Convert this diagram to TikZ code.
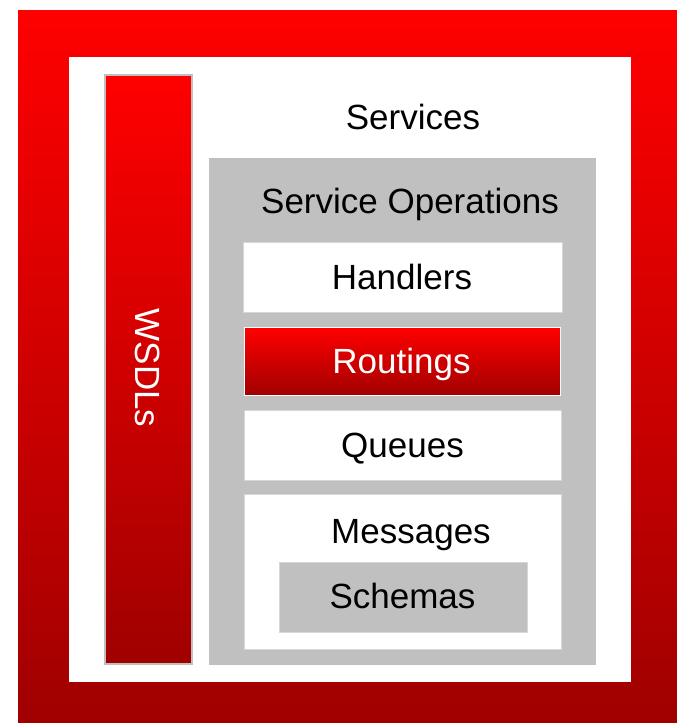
\documentclass[tikz,border=0pt]{standalone}
\usepackage{fontspec}
\setmainfont{Liberation Sans}
\definecolor{dred}{RGB}{160,0,0}
\definecolor{boxgray}{RGB}{192,192,192}
\definecolor{edgegray}{RGB}{215,215,215}
\begin{document}
\begin{tikzpicture}[x=1pt,y=-1pt,
  lbl/.style={font=\fontsize{35}{40}\selectfont, inner sep=0pt, anchor=base},
  redgrad/.style={top color=red, bottom color=dred},
  panel/.style={rectangle, inner sep=0pt, outer sep=0pt},
  whitebox/.style={panel, fill=white, draw=edgegray, line width=0.8pt},
]
\useasboundingbox (0,0) rectangle (677,723);
\fill[white] (0,0) rectangle (677,723);
% outer red frame
\node[panel, redgrad, minimum width=659pt, minimum height=713pt] (frame) at (347.5,366.5) {};
% services white area
\node[panel, fill=white, minimum width=562pt, minimum height=625pt] (services) at (350,369.5) {};
\node[lbl] (servicesl) at (413,129) {Services};
% WSDLs bar
\node[panel, redgrad, draw=boxgray, line width=2pt, minimum width=87pt, minimum height=589pt] (wsdl) at (148.5,369.5) {};
\node[font=\fontsize{35}{40}\selectfont, text=white, inner sep=0pt, rotate=-90] (wsdll) at (148,368) {WSDLs};
% service operations
\node[panel, fill=boxgray, minimum width=387pt, minimum height=507pt] (ops) at (402.5,411.5) {};
\node[lbl] (opsl) at (410,213) {Service Operations};
% handlers
\node[whitebox, minimum width=319pt, minimum height=70pt] (handlers) at (402.5,277) {};
\node[lbl] (handlersl) at (402,289) {Handlers};
% routings
\node[panel, redgrad, draw=white, line width=1.5pt, minimum width=316pt, minimum height=68pt] (routings) at (402.5,361.5) {};
\node[lbl, text=white] (routingsl) at (401.5,373) {Routings};
% queues
\node[whitebox, minimum width=317pt, minimum height=70pt] (queues) at (402.5,445) {};
\node[lbl] (queuesl) at (402.5,457) {Queues};
% messages
\node[whitebox, minimum width=317pt, minimum height=155pt] (messages) at (402.5,571.5) {};
\node[lbl] (messagesl) at (411,543) {Messages};
% schemas
\node[panel, fill=boxgray, draw=edgegray, line width=0.8pt, minimum width=248pt, minimum height=70pt] (schemas) at (403,597) {};
\node[lbl] (schemasl) at (402.5,608) {Schemas};
\end{tikzpicture}
\end{document}
